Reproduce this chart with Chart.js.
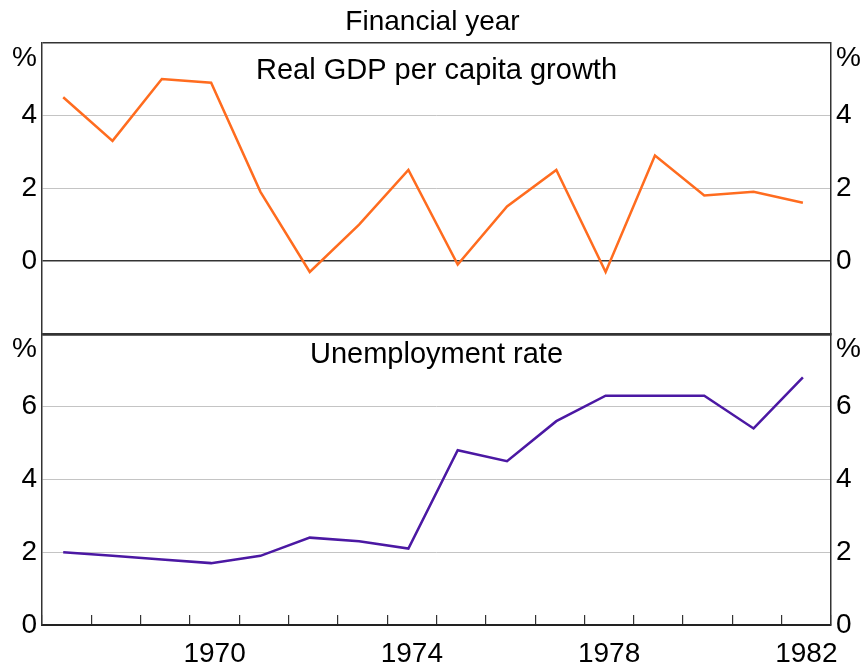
<!DOCTYPE html>
<html>
<head>
<meta charset="utf-8">
<script src="https://cdn.jsdelivr.net/npm/chart.js@4/dist/chart.umd.min.js"></script>
<style>
  html, body { margin: 0; padding: 0; background: #fff; }
  #wrap { width: 865px; height: 667px; }
</style>
</head>
<body>
<div id="wrap"><canvas id="chartCanvas" width="865" height="667"></canvas></div>
<script>
// financial years, one value per year
const years = [1967, 1968, 1969, 1970, 1971, 1972, 1973, 1974, 1975, 1976, 1977, 1978, 1979, 1980, 1981, 1982];
const yearLabels = ['1970', '1974', '1978', '1982'];
const gdpGrowth = [4.5, 3.3, 5.0, 4.9, 1.9, -0.3, 1.0, 2.5, -0.1, 1.5, 2.5, -0.3, 2.9, 1.8, 1.9, 1.6];
const unemployment = [2.0, 1.9, 1.8, 1.7, 1.9, 2.4, 2.3, 2.1, 4.8, 4.5, 5.6, 6.3, 6.3, 6.3, 5.4, 6.8];
const gdpTicks = [-2, 0, 2, 4, 6];
const urTicks = [0, 2, 4, 6, 8];

const FONT = '"Liberation Sans", Arial, sans-serif';
const DARK = '#333333';
const LIGHT = '#c4c4c4';

const ctx = document.getElementById('chartCanvas').getContext('2d');

function tickLabel(v, list) {
  if (v === list[list.length - 1]) return ['', '%'];
  if (v === list[0] && v < 0) return '';
  return String(v);
}

function gridColor(c, list) {
  const v = c.tick.value;
  if (v === list[0] || v === list[list.length - 1] || v === 0) return DARK;
  return LIGHT;
}

function gridWidth(c, list) {
  const v = c.tick.value;
  if (v === list[0] && v < 0) return 2.5;
  if (v === list[list.length - 1] && list[0] === 0) return 2.5;
  if (v === 0 || v === list[list.length - 1]) return 1.5;
  return 1;
}

function yAxis(list, position, stack, onChart) {
  return {
    type: 'linear',
    position: position,
    stack: stack,
    stackWeight: 1,
    min: list[0],
    max: list[list.length - 1],
    afterBuildTicks: s => { s.ticks = list.map(v => ({ value: v })); },
    afterFit: s => { s.width = position === 'left' ? 42 : 34; },
    border: { display: true, color: DARK, width: 1.5 },
    grid: {
      drawOnChartArea: onChart,
      drawTicks: false,
      color: c => gridColor(c, list),
      lineWidth: c => gridWidth(c, list)
    },
    ticks: {
      autoSkip: false,
      padding: 5,
      color: '#000',
      font: { family: FONT, size: 28, lineHeight: 1.1 },
      callback: v => tickLabel(v, list)
    }
  };
}

const panelTitles = {
  id: 'panelTitles',
  afterDraw(chart) {
    const { ctx, chartArea, scales } = chart;
    const cx = (chartArea.left + chartArea.right) / 2;
    ctx.save();
    ctx.font = '29px ' + FONT;
    ctx.fillStyle = '#000';
    ctx.textAlign = 'center';
    ctx.textBaseline = 'middle';
    ctx.fillText('Real GDP per capita growth', cx, scales.y1.top + 28);
    ctx.fillText('Unemployment rate', cx, scales.y2.top + 21);
    ctx.restore();
  }
};

new Chart(ctx, {
  type: 'line',
  data: {
    labels: years,
    datasets: [{
      label: 'Real GDP per capita growth',
      data: years.map((y, i) => ({ x: y, y: gdpGrowth[i] })),
      xAxisID: 'xd',
      yAxisID: 'y1',
      borderColor: '#ff6c1f',
      borderWidth: 2.5,
      pointRadius: 0,
      tension: 0
    }, {
      label: 'Unemployment rate',
      data: years.map((y, i) => ({ x: y, y: unemployment[i] })),
      xAxisID: 'xd',
      yAxisID: 'y2',
      borderColor: '#4b18a3',
      borderWidth: 2.5,
      pointRadius: 0,
      tension: 0
    }]
  },
  options: {
    responsive: false,
    animation: false,
    layout: { padding: 0 },
    plugins: {
      legend: { display: false },
      tooltip: { enabled: false },
      title: {
        display: true,
        text: 'Financial year',
        color: '#000',
        font: { family: FONT, size: 28, weight: 'normal', lineHeight: 1.2 },
        padding: { top: 5, bottom: 4 }
      }
    },
    scales: {
      x: {
        type: 'category',
        position: 'bottom',
        offset: true,
        afterFit: s => { s.height = 42; },
        border: { display: true, color: '#222', width: 2 },
        grid: {
          offset: true,
          drawOnChartArea: false,
          drawTicks: true,
          tickLength: -10,
          color: DARK,
          lineWidth: 1.2
        },
        ticks: {
          autoSkip: false,
          maxRotation: 0,
          padding: 22,
          color: '#000',
          font: { family: FONT, size: 28 },
          callback: function (v) {
            const lab = String(this.getLabelForValue(v));
            return yearLabels.includes(lab) ? lab : '';
          }
        }
      },
      xd: {
        type: 'linear',
        display: false,
        min: years[0] - 0.43,
        max: years[years.length - 1] + 0.57
      },
      y2: yAxis(urTicks, 'left', 'left', true),
      y1: yAxis(gdpTicks, 'left', 'left', true),
      y1r: yAxis(gdpTicks, 'right', 'right', false),
      y2r: yAxis(urTicks, 'right', 'right', false)
    }
  },
  plugins: [panelTitles]
});
</script>
</body>
</html>
